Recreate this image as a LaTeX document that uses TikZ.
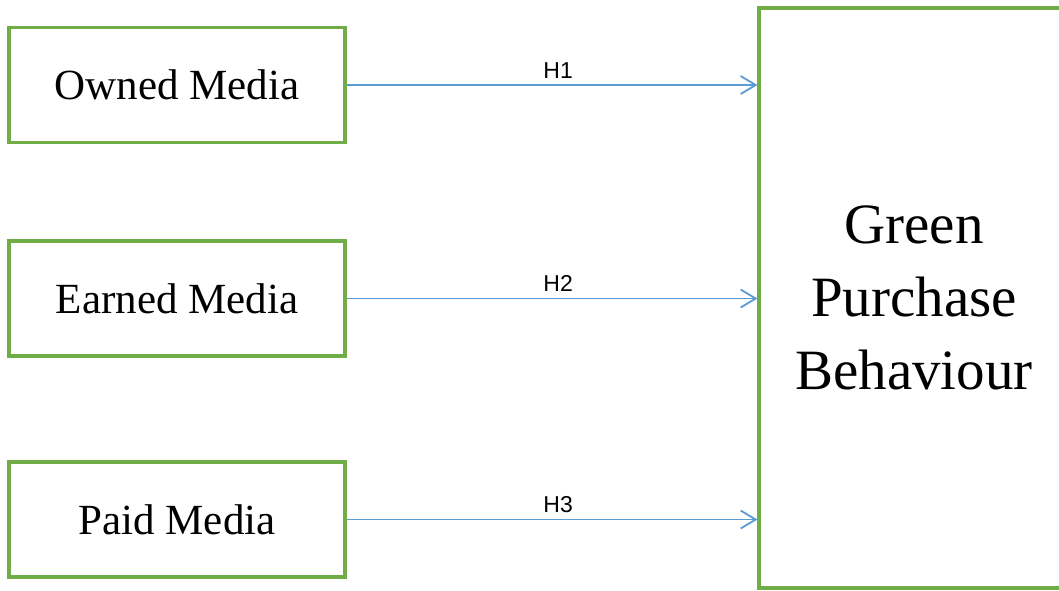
\documentclass[tikz,border=0pt]{standalone}
\usepackage{fontspec}
\setmainfont{Liberation Serif}
\newfontfamily\labelfont{Liberation Sans}
\usetikzlibrary{arrows.meta}
\definecolor{boxgreen}{HTML}{70AD47}
\definecolor{arrowblue}{HTML}{5B9BD5}
\tikzset{
  mediabox/.style={draw=boxgreen, line width=3.2pt, minimum width=336pt, minimum height=115pt, inner sep=0pt, font=\fontsize{43}{50}\selectfont},
  bigbox/.style={draw=boxgreen, line width=3.2pt, minimum width=310pt, minimum height=580pt, inner sep=0pt, align=center, font=\fontsize{57}{73}\selectfont},
  link/.style={draw=arrowblue, line width=1.8pt, -{Straight Barb[length=15pt,width=18pt]}},
  hlabel/.style={font=\labelfont\fontsize{23}{26}\selectfont, text=black, above, inner sep=6pt}
}
\begin{document}
\begin{tikzpicture}[x=1pt,y=-1pt]
\useasboundingbox (0,0) rectangle (1059,590);
\clip (0,0) rectangle (1059,590);
\fill[white] (0,0) rectangle (1059,590);
\node[mediabox] (own) at (177,85) {Owned Media};
\node[mediabox] (earn) at (177,298.5) {Earned Media};
\node[mediabox] (paid) at (177,519.5) {Paid Media};
\node[bigbox] (gpb) at (914,298) {Green\\Purchase\\Behaviour};
\draw[link] (own.east) -- node[hlabel, pos=0.515] {H1} (own.east -| gpb.west);
\draw[link] (earn.east) -- node[hlabel, pos=0.515] {H2} (earn.east -| gpb.west);
\draw[link] (paid.east) -- node[hlabel, pos=0.515] {H3} (paid.east -| gpb.west);
\end{tikzpicture}
\end{document}
